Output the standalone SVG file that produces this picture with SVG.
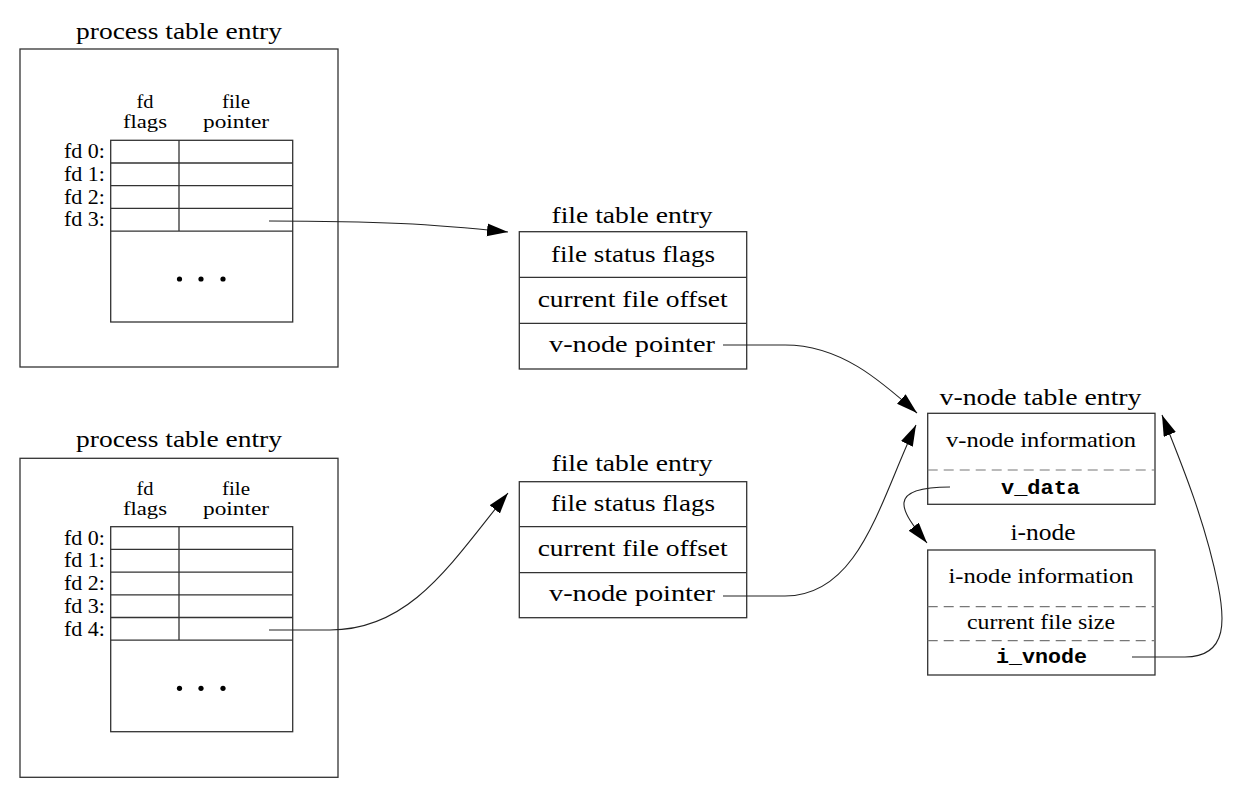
<svg xmlns="http://www.w3.org/2000/svg" width="1254" height="802" viewBox="0 0 1254 802">
<style>
  .box { fill: #fff; stroke: #333; stroke-width: 1.3; }
  .ln { stroke: #333; stroke-width: 1.3; fill: none; }
  .dash { stroke: #777; stroke-width: 1.2; stroke-dasharray: 10 6; fill: none; }
  .t { font-family: "Liberation Serif", "Times New Roman", serif; font-size: 24px; fill: #000; text-anchor: middle; }
  .s { font-family: "Liberation Serif", "Times New Roman", serif; font-size: 22px; fill: #000; text-anchor: middle; }
  .h { font-family: "Liberation Serif", "Times New Roman", serif; font-size: 18px; fill: #000; text-anchor: middle; }
  .fd { font-family: "Liberation Serif", "Times New Roman", serif; font-size: 22px; fill: #000; text-anchor: end; }
  .m { font-family: "Liberation Mono", "Courier New", monospace; font-size: 21px; font-weight: bold; fill: #000; text-anchor: middle; }
  .conn { stroke: #222; stroke-width: 1.1; fill: none; marker-end: url(#ah); }
  .dot { fill: #000; }
</style>
<defs>
  <marker id="ah" markerUnits="userSpaceOnUse" markerWidth="22" markerHeight="14" refX="21" refY="6.5" orient="auto">
    <path d="M0,0 L21,6.5 L0,13 z" fill="#000"/>
  </marker>
</defs>
<rect width="1254" height="802" fill="#fff"/>

<g id="process1">
  <text class="t" x="179" y="39" textLength="206" lengthAdjust="spacingAndGlyphs">process table entry</text>
  <rect class="box" x="20" y="49" width="318" height="318"/>
  <text class="h" x="145" y="108" textLength="17" lengthAdjust="spacingAndGlyphs">fd</text>
  <text class="h" x="145" y="128" textLength="44" lengthAdjust="spacingAndGlyphs">flags</text>
  <text class="h" x="236" y="108" textLength="28" lengthAdjust="spacingAndGlyphs">file</text>
  <text class="h" x="236" y="128" textLength="66" lengthAdjust="spacingAndGlyphs">pointer</text>
  <rect class="box" x="110.7" y="140.3" width="182" height="181.7"/>
  <path class="ln" d="M110.7,163 H292.7 M110.7,185.7 H292.7 M110.7,208.4 H292.7 M110.7,231.1 H292.7 M179,140.3 V231.1"/>
  <text class="fd" x="105" y="158.3">fd 0:</text>
  <text class="fd" x="105" y="181">fd 1:</text>
  <text class="fd" x="105" y="203.7">fd 2:</text>
  <text class="fd" x="105" y="226.4">fd 3:</text>
  <circle class="dot" cx="179.5" cy="279" r="2.6"/>
  <circle class="dot" cx="201" cy="279" r="2.6"/>
  <circle class="dot" cx="223" cy="279" r="2.6"/>
</g>

<g id="process2">
  <text class="t" x="179" y="447" textLength="206" lengthAdjust="spacingAndGlyphs">process table entry</text>
  <rect class="box" x="20" y="458.3" width="318" height="319"/>
  <text class="h" x="145" y="494.5" textLength="17" lengthAdjust="spacingAndGlyphs">fd</text>
  <text class="h" x="145" y="514.5" textLength="44" lengthAdjust="spacingAndGlyphs">flags</text>
  <text class="h" x="236" y="494.5" textLength="28" lengthAdjust="spacingAndGlyphs">file</text>
  <text class="h" x="236" y="514.5" textLength="66" lengthAdjust="spacingAndGlyphs">pointer</text>
  <rect class="box" x="110.7" y="526.7" width="182" height="205"/>
  <path class="ln" d="M110.7,549.4 H292.7 M110.7,572.1 H292.7 M110.7,594.8 H292.7 M110.7,617.5 H292.7 M110.7,640.2 H292.7 M179,526.7 V640.2"/>
  <text class="fd" x="105" y="544.7">fd 0:</text>
  <text class="fd" x="105" y="567.4">fd 1:</text>
  <text class="fd" x="105" y="590.1">fd 2:</text>
  <text class="fd" x="105" y="612.8">fd 3:</text>
  <text class="fd" x="105" y="635.5">fd 4:</text>
  <circle class="dot" cx="179.5" cy="688.3" r="2.6"/>
  <circle class="dot" cx="201" cy="688.3" r="2.6"/>
  <circle class="dot" cx="223" cy="688.3" r="2.6"/>
</g>

<g id="file1">
  <text class="t" x="632" y="223" textLength="161" lengthAdjust="spacingAndGlyphs">file table entry</text>
  <rect class="box" x="519.3" y="231.7" width="227.4" height="137.3"/>
  <path class="ln" d="M519.3,277.3 H746.7 M519.3,323.3 H746.7"/>
  <text class="t" x="633" y="261.7" textLength="164" lengthAdjust="spacingAndGlyphs">file status flags</text>
  <text class="t" x="632.7" y="306.7" textLength="190" lengthAdjust="spacingAndGlyphs">current file offset</text>
  <text class="t" x="632" y="351.7" textLength="166" lengthAdjust="spacingAndGlyphs">v-node pointer</text>
</g>

<g id="file2">
  <text class="t" x="632" y="471" textLength="161" lengthAdjust="spacingAndGlyphs">file table entry</text>
  <rect class="box" x="519.3" y="481.7" width="227.4" height="136"/>
  <path class="ln" d="M519.3,526.7 H746.7 M519.3,572.7 H746.7"/>
  <text class="t" x="633" y="510.5" textLength="164" lengthAdjust="spacingAndGlyphs">file status flags</text>
  <text class="t" x="632.7" y="555.5" textLength="190" lengthAdjust="spacingAndGlyphs">current file offset</text>
  <text class="t" x="632" y="601" textLength="166" lengthAdjust="spacingAndGlyphs">v-node pointer</text>
</g>

<g id="vnode">
  <text class="t" x="1040.5" y="405" textLength="202" lengthAdjust="spacingAndGlyphs">v-node table entry</text>
  <rect class="box" x="927.7" y="413.3" width="227.3" height="91"/>
  <line class="dash" x1="927.7" y1="470" x2="1155" y2="470"/>
  <text class="s" x="1041" y="447.3" textLength="190" lengthAdjust="spacingAndGlyphs">v-node information</text>
  <text class="m" x="1040.5" y="494" textLength="79" lengthAdjust="spacingAndGlyphs">v_data</text>
</g>

<g id="inode">
  <text class="t" x="1043" y="540" textLength="65" lengthAdjust="spacingAndGlyphs">i-node</text>
  <rect class="box" x="927.7" y="550" width="227.3" height="125"/>
  <line class="dash" x1="927.7" y1="606.7" x2="1155" y2="606.7"/>
  <line class="dash" x1="927.7" y1="640.7" x2="1155" y2="640.7"/>
  <text class="s" x="1041" y="583.3" textLength="185" lengthAdjust="spacingAndGlyphs">i-node information</text>
  <text class="s" x="1041" y="629.3" textLength="148" lengthAdjust="spacingAndGlyphs">current file size</text>
  <text class="m" x="1041.5" y="663.3" textLength="91" lengthAdjust="spacingAndGlyphs">i_vnode</text>
</g>

<g id="connectors">
  <path class="conn" d="M269,221 C 380,221 430,224 508,232"/>
  <path class="conn" d="M269,630 L 330,630 C 410,630 450,565 508,493"/>
  <path class="conn" d="M723,345 L 785,345 C 840,345 880,380 917,413"/>
  <path class="conn" d="M723,596 L 785,596 C 860,596 880,500 916,425"/>
  <path class="conn" d="M950,487 C 885,487 900,510 927,543"/>
  <path class="conn" d="M1132,657 L 1185,657 C 1230,657 1224,615 1218,585 C 1205,520 1180,460 1162,415"/>
</g>
</svg>
